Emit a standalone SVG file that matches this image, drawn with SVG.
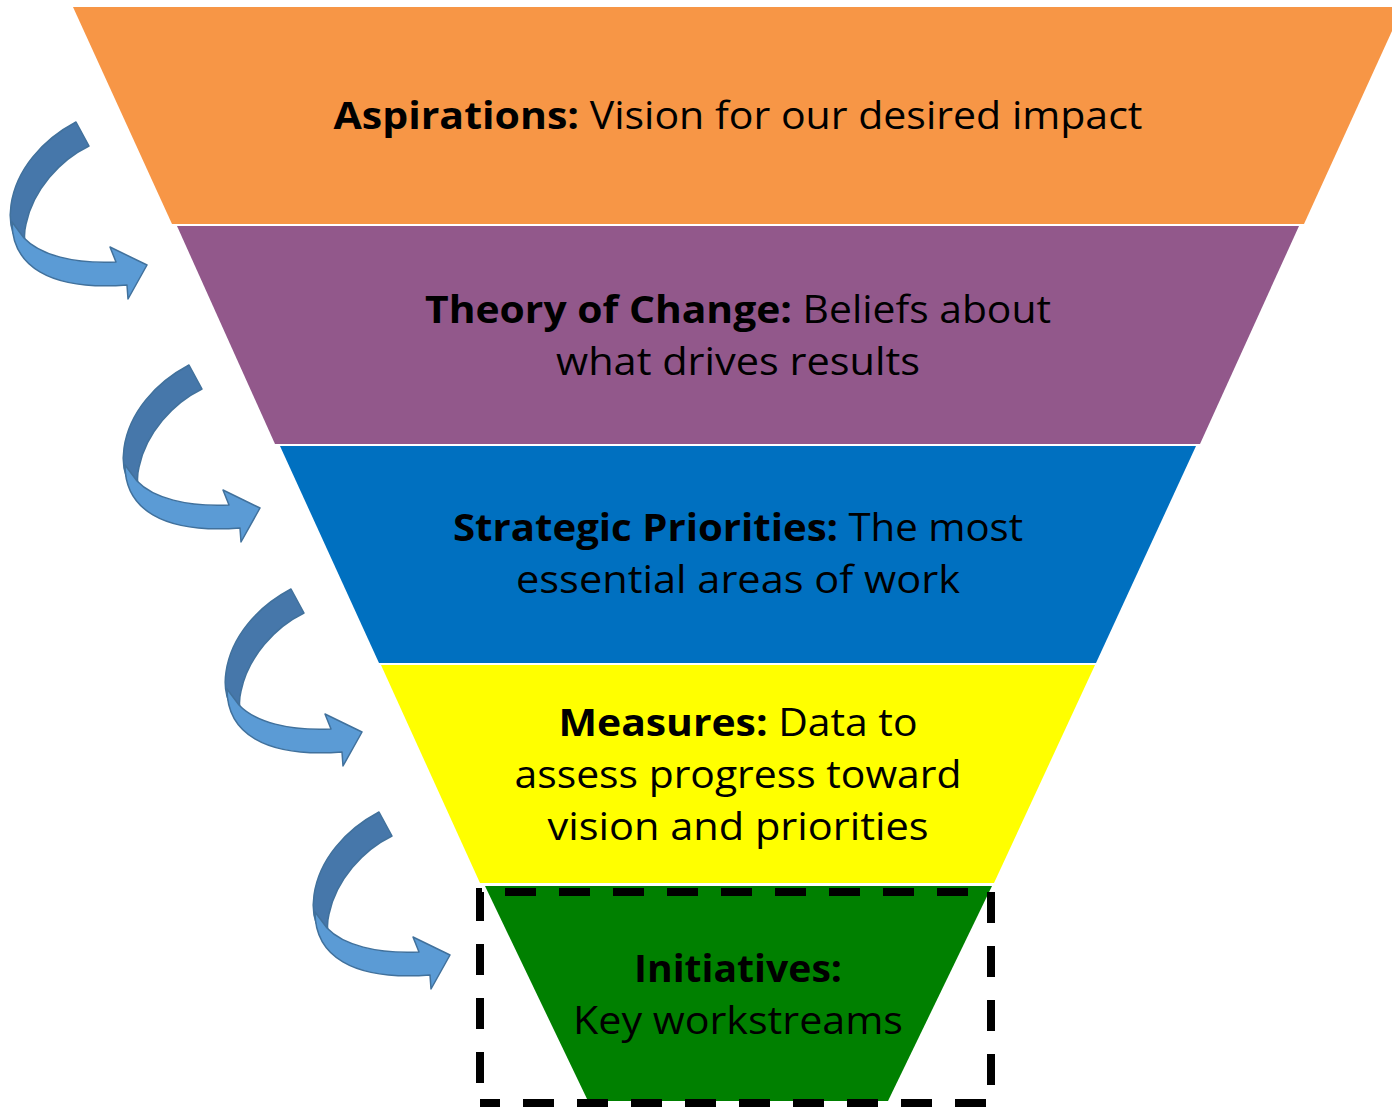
<svg xmlns="http://www.w3.org/2000/svg" xmlns:xlink="http://www.w3.org/1999/xlink" width="1392" height="1107" viewBox="0 0 1392 1107">
  <style>
    .lbl { font-family: "Open Sans", "Noto Sans", "Liberation Sans", sans-serif; font-size: 38px; fill: #000; text-anchor: middle; }
    .b { font-weight: bold; }
    .curl-back { fill: #4677AA; stroke: #41719C; stroke-width: 1.5; stroke-linejoin: round; }
    .curl-front { fill: #5B9BD5; stroke: #41719C; stroke-width: 1.5; stroke-linejoin: round; }
  </style>
  <defs>
    <!-- curved ribbon arrow: darker back strip, lighter front strip ending in the head -->
    <g id="curl">
      <path class="curl-back" d="M76,122 L89,146 C60,160 33,190 26,224 C24,232 24,240 26,248 L17,241 C11,231 9,218 11,205 C16,170 42,140 76,122 Z"/>
      <path class="curl-front" d="M12,222 C12,265 48,291 127,285 L128,299 L147,265 L110,247 L116,262 C74,264 40,255 24,238 Z"/>
    </g>
  </defs>
  <rect width="1392" height="1107" fill="#fff"/>

  <g id="aspirations">
    <polygon points="73,7 1403,7 1304,224 172,224" fill="#F79646"/>
    <text class="lbl" x="738" y="129" textLength="809" lengthAdjust="spacingAndGlyphs"><tspan class="b">Aspirations:</tspan> Vision for our desired impact</text>
  </g>

  <g id="theory-of-change">
    <polygon points="177,226 1299,226 1200,444 275,444" fill="#92588B"/>
    <text class="lbl" x="738" y="323" textLength="626" lengthAdjust="spacingAndGlyphs"><tspan class="b">Theory of Change:</tspan> Beliefs about</text>
    <text class="lbl" x="738" y="375" textLength="364" lengthAdjust="spacingAndGlyphs">what drives results</text>
  </g>

  <g id="strategic-priorities">
    <polygon points="280,446 1196,446 1096,663 379,663" fill="#0070C0"/>
    <text class="lbl" x="738" y="541" textLength="570" lengthAdjust="spacingAndGlyphs"><tspan class="b">Strategic Priorities:</tspan> The most</text>
    <text class="lbl" x="738" y="593" textLength="444" lengthAdjust="spacingAndGlyphs">essential areas of work</text>
  </g>

  <g id="measures">
    <polygon points="381,665 1095,665 994,883 480,883" fill="#FFFF00"/>
    <text class="lbl" x="738" y="736" textLength="359" lengthAdjust="spacingAndGlyphs"><tspan class="b">Measures:</tspan> Data to</text>
    <text class="lbl" x="738" y="788" textLength="447" lengthAdjust="spacingAndGlyphs">assess progress toward</text>
    <text class="lbl" x="738" y="840" textLength="381" lengthAdjust="spacingAndGlyphs">vision and priorities</text>
  </g>

  <g id="initiatives">
    <polygon points="485,886 992,886 888,1101 588,1101" fill="#008000"/>
    <text class="lbl b" x="738" y="982" textLength="208" lengthAdjust="spacingAndGlyphs">Initiatives:</text>
    <text class="lbl" x="738" y="1034" textLength="330" lengthAdjust="spacingAndGlyphs">Key workstreams</text>
    <!-- dashed highlight frame -->
    <path d="M480,1103 V892 H991 V1103 Z" fill="none" stroke="#000" stroke-width="8" stroke-dasharray="31 23" stroke-dashoffset="34"/>
  </g>

  <g id="connectors">
    <use xlink:href="#curl"/>
    <use xlink:href="#curl" transform="translate(113,243)"/>
    <use xlink:href="#curl" transform="translate(215,467)"/>
    <use xlink:href="#curl" transform="translate(303,690)"/>
  </g>
</svg>
